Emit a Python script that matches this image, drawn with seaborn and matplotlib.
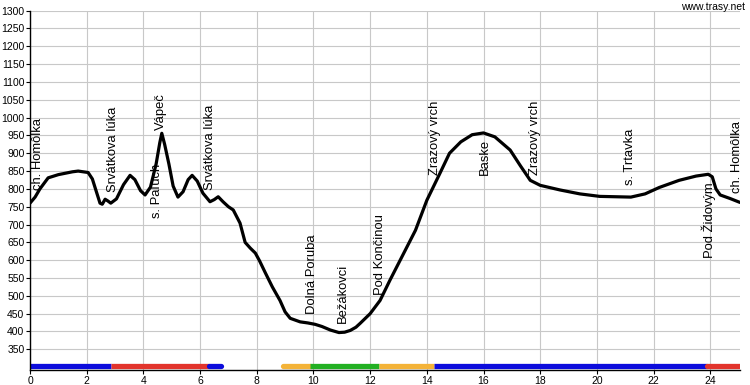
import pandas as pd
import matplotlib
matplotlib.use("Agg")
import matplotlib.pyplot as plt
import seaborn as sns

# elevation profile (km, m)
dist_km = [0.0, 0.18, 0.35, 0.64, 1.0, 1.5, 1.7, 2.05, 2.2, 2.35, 2.47, 2.55, 2.65, 2.75,
           2.85, 3.05, 3.3, 3.53, 3.7, 3.9, 4.06, 4.25, 4.45, 4.58, 4.65, 4.75, 4.9,
           5.05, 5.22, 5.4, 5.58, 5.72, 5.9, 6.1, 6.35, 6.5, 6.64, 6.81, 7.0, 7.17,
           7.41, 7.59, 7.77, 7.95, 8.1, 8.3, 8.55, 8.82, 9.0, 9.18, 9.53, 9.8, 10.06,
           10.3, 10.6, 10.9, 11.1, 11.3, 11.5, 11.65, 12.0, 12.35, 12.7, 13.06, 13.6,
           14.0, 14.47, 14.8, 15.2, 15.6, 16.0, 16.4, 16.94, 17.3, 17.65, 18.0, 18.7,
           19.4, 20.1, 21.2, 21.7, 22.2, 22.9, 23.5, 23.93, 24.07, 24.2, 24.35, 24.7,
           25.05]
elev_m = [760, 777, 800, 831, 840, 848, 850, 846, 828, 790, 760, 757, 771, 766,
          760, 772, 812, 838, 826, 795, 783, 805, 870, 930, 956, 925, 870,
          808, 777, 792, 826, 838, 822, 788, 764, 770, 778, 764, 750, 741,
          704, 650, 634, 620, 598, 565, 525, 487, 455, 437, 427, 424, 420,
          414, 404, 397, 398, 403, 412, 423, 450, 487, 544, 600, 684,
          768, 845, 900, 932, 952, 957, 946, 909, 865, 824, 810, 797,
          786, 779, 777, 786, 804, 824, 836, 841, 834, 800, 783, 773,
          762]

# trail-colour segments along the bottom
seg_start = [0.0, 2.86, 6.3, 8.94, 9.88, 12.3, 14.27, 23.9]
seg_end = [2.86, 6.3, 6.75, 9.88, 12.3, 14.27, 23.9, 25.05]
seg_color = ["#0c0cdc", "#e2342c", "#0c0cdc", "#f4b338", "#22b022", "#f4b338", "#0c0cdc", "#e2342c"]
seg_cap = ["butt", "butt", "round", "round", "butt", "butt", "butt", "round"]
SEG_ELEV = 302

# waypoint labels
label_km = [0.28, 2.93, 4.48, 4.62, 6.35, 9.95, 11.05, 12.35, 14.3, 16.06, 17.83, 21.18, 23.93, 24.96]
label_elev = [796, 791, 718, 965, 796, 450, 425, 501, 839, 839, 839, 811, 605, 788]
label_text = ["ch. Homôlka", "Srvátkova lúka", "s. Paľuch", "Vápeč", "Srvátkova lúka",
              "Dolná Poruba", "Bežákovci", "Pod Končinou", "Zrazový vrch", "Baske",
              "Zrazový vrch", "s. Trtavka", "Pod Židovým", "ch. Homôlka"]

sns.set_theme(style="whitegrid")
plt.rcParams["font.family"] = ["Liberation Sans", "DejaVu Sans"]

fig = plt.figure(figsize=(7.5, 3.85), dpi=100)
ax = fig.add_axes([0.04, 0.039, 0.9467, 0.9333])

df = pd.DataFrame({"km": dist_km, "elev": elev_m})
sns.lineplot(data=df, x="km", y="elev", estimator=None, color="black", linewidth=2.3, ax=ax)

for s, e, c, cap in zip(seg_start, seg_end, seg_color, seg_cap):
    ax.plot([s, e], [SEG_ELEV, SEG_ELEV], color=c, linewidth=3.8, solid_capstyle=cap)

for x, y, t in zip(label_km, label_elev, label_text):
    ax.text(x, y, t, rotation=90, ha="center", va="bottom", fontsize=9.4, color="black")

ax.set_xlim(0, 25.05)
ax.set_ylim(292, 1300)
ax.set_xticks(range(0, 25, 2))
ax.set_yticks(range(350, 1301, 50))
ax.set_xlabel("")
ax.set_ylabel("")
ax.set_facecolor("white")
ax.grid(True, color="#c8c8c8", linewidth=0.8)
for side in ["top", "right"]:
    ax.spines[side].set_visible(False)
for side in ["left", "bottom"]:
    ax.spines[side].set_color("black")
    ax.spines[side].set_linewidth(1.0)
ax.tick_params(axis="both", labelsize=7.5, colors="black", length=3, width=0.8, pad=1, direction="out")
ax.tick_params(left=True, bottom=True)

fig.text(0.993, 0.982, "www.trasy.net", ha="right", va="center", fontsize=7.5, color="black")

fig.savefig("out.png", dpi=100)
plt.close()
